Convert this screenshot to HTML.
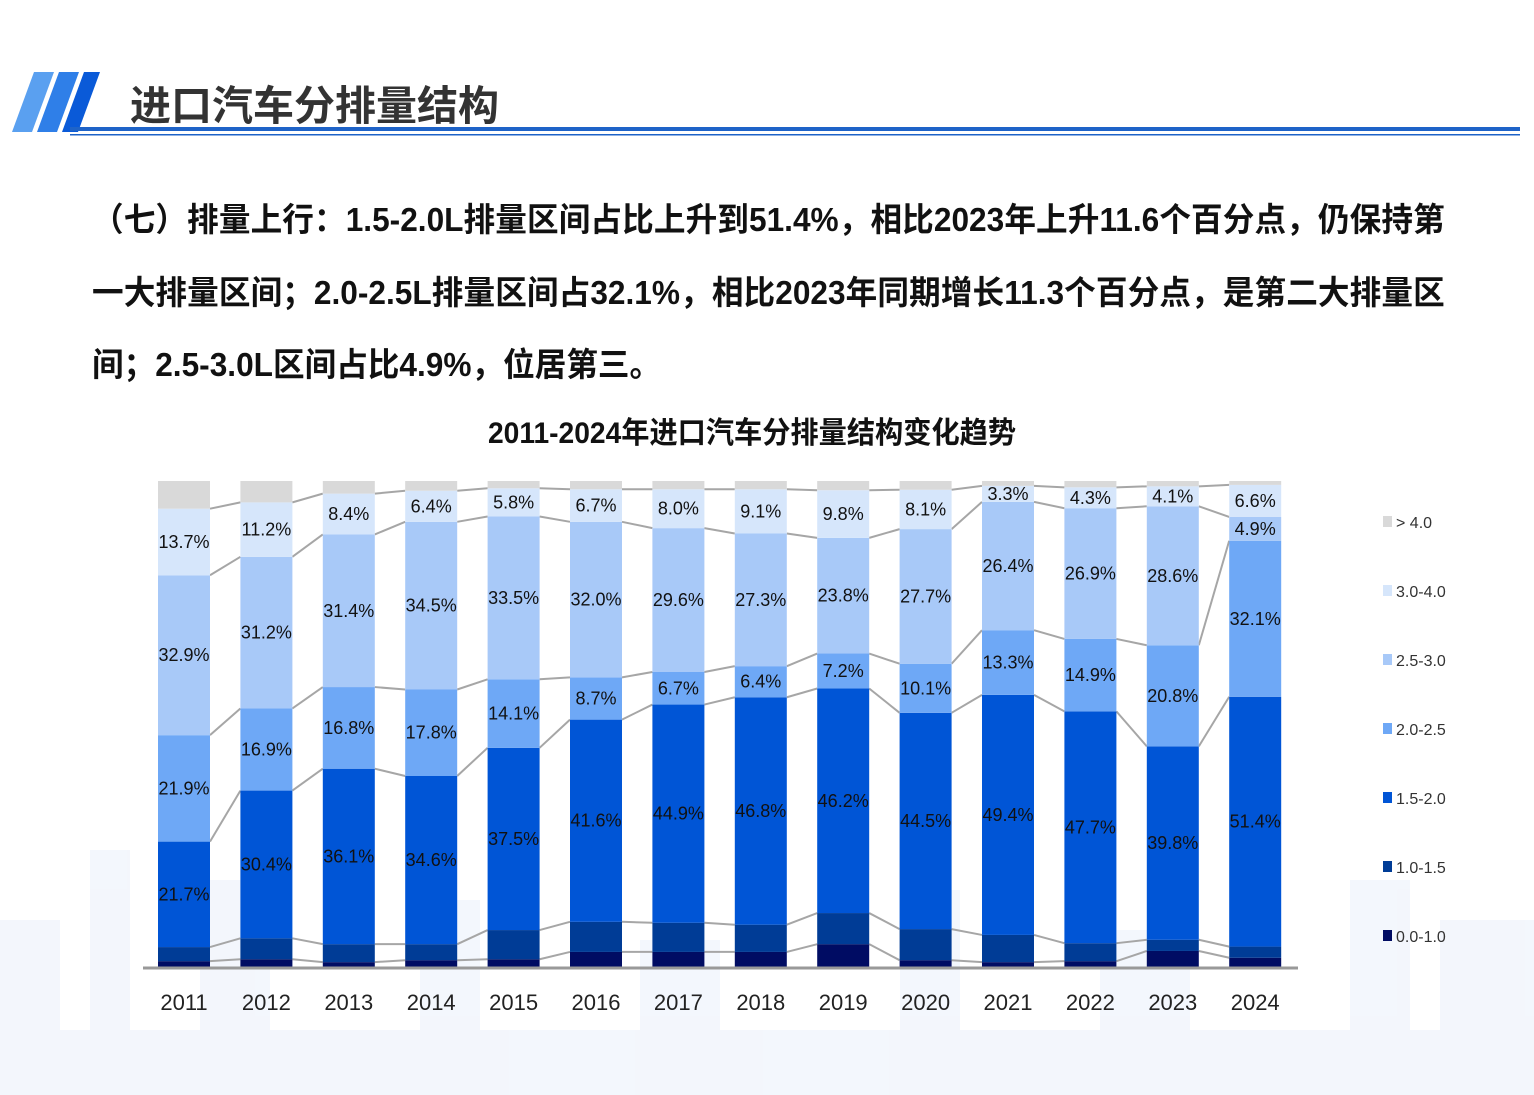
<!DOCTYPE html>
<html><head><meta charset="utf-8">
<style>
body{margin:0;width:1534px;height:1095px;background:#fff;position:relative;overflow:hidden;font-family:"Liberation Sans","Noto Sans CJK SC",sans-serif;}
.abs{position:absolute;}
.para{position:absolute;left:92px;width:1412px;font-size:33px;font-weight:bold;color:#111;white-space:nowrap;transform:scaleX(0.958);transform-origin:0 0;}
.just{text-align:justify;text-align-last:justify;}
</style></head><body>
<svg class="abs" style="left:0;top:0" width="1534" height="1095">
  <g fill="#eef3fc" opacity="0.7">
    <rect x="0" y="920" width="60" height="175"/><rect x="90" y="850" width="40" height="245"/>
    <rect x="200" y="880" width="70" height="215"/><rect x="420" y="900" width="60" height="195"/>
    <rect x="640" y="940" width="80" height="155"/><rect x="900" y="890" width="60" height="205"/>
    <rect x="1100" y="930" width="90" height="165"/><rect x="1350" y="880" width="60" height="215"/>
    <rect x="1440" y="920" width="94" height="175"/><rect x="0" y="1030" width="1534" height="65"/>
  </g>
</svg>
<svg class="abs" style="left:0;top:60px" width="1534" height="80">
  <polygon points="34,12 54,12 32,72 12,72" fill="#5aa0f0"/>
  <polygon points="59,12 79,12 57,72 37,72" fill="#2f7fe8"/>
  <polygon points="84,12 100,12 78,72 62,72" fill="#0a5ad8"/>
  <rect x="70" y="67" width="1450" height="4" fill="#1e63c8"/>
  <rect x="70" y="74" width="1450" height="1.5" fill="#1e63c8"/>
</svg>
<div class="abs" style="left:130px;top:72px;font-size:41px;font-weight:bold;color:#333;">进口汽车分排量结构</div>
<div class="para just" style="top:193px;">（七）排量上行：1.5-2.0L排量区间占比上升到51.4%，相比2023年上升11.6个百分点，仍保持第</div>
<div class="para just" style="top:266px;">一大排量区间；2.0-2.5L排量区间占32.1%，相比2023年同期增长11.3个百分点，是第二大排量区</div>
<div class="para" style="top:338px;">间；2.5-3.0L区间占比4.9%，位居第三。</div>
<div class="abs" style="left:0;width:1504px;top:408px;text-align:center;font-size:30px;font-weight:bold;color:#111;transform:scaleX(0.94);transform-origin:752px 0;">2011-2024年进口汽车分排量结构变化趋势</div>
<svg id="chart" class="abs" style="left:0;top:0" width="1534" height="1095"></svg>
<script>
const years=["2011","2012","2013","2014","2015","2016","2017","2018","2019","2020","2021","2022","2023","2024"];
const seriesNames=["0.0-1.0","1.0-1.5","1.5-2.0","2.0-2.5","2.5-3.0","3.0-4.0",">4.0"];
const s00_10=[1.2,1.6,1.0,1.4,1.6,3.1,3.1,3.1,4.7,1.4,1.0,1.2,3.3,1.9];
const s10_15=[2.9,4.3,3.7,3.3,6.0,6.2,6.0,5.6,6.4,6.4,5.6,3.7,2.3,2.3];
const s15_20=[21.7,30.4,36.1,34.6,37.5,41.6,44.9,46.8,46.2,44.5,49.4,47.7,39.8,51.4];
const s20_25=[21.9,16.9,16.8,17.8,14.1,8.7,6.7,6.4,7.2,10.1,13.3,14.9,20.8,32.1];
const s25_30=[32.9,31.2,31.4,34.5,33.5,32.0,29.6,27.3,23.8,27.7,26.4,26.9,28.6,4.9];
const s30_40=[13.7,11.2,8.4,6.4,5.8,6.7,8.0,9.1,9.8,8.1,3.3,4.3,4.1,6.6];
const s40p=[5.7,4.4,2.6,2.0,1.5,1.7,1.7,1.7,1.9,1.8,1.0,1.3,1.1,0.8];
const series=[s00_10,s10_15,s15_20,s20_25,s25_30,s30_40,s40p];
const colors=["#000c63","#003c96","#0055d6","#6ea8f6","#a8c9f8","#d6e6fb","#d9d9d9"];
const labeled=[false,false,true,true,true,true,false];
const svg=document.getElementById('chart');const NS="http://www.w3.org/2000/svg";
const X0=184,DX=82.4,BW=52,YB=967,YT=481;
const xc=i=>X0+i*DX;
const y=p=>YB-(YB-YT)*p/100;
function mk(t,a){const e=document.createElementNS(NS,t);for(const k in a)e.setAttribute(k,a[k]);svg.appendChild(e);return e;}
const cum=years.map((_,i)=>{let tot=series.reduce((s,a)=>s+a[i],0);let c=[0];let acc=0;series.forEach(a=>{acc+=a[i]/tot*100;c.push(acc);});return c;});
for(let i=0;i<years.length-1;i++){for(let k=1;k<series.length;k++){
 const l=mk('line',{x1:xc(i)+BW/2,y1:y(cum[i][k]),x2:xc(i+1)-BW/2,y2:y(cum[i+1][k]),stroke:'#a6a6a6','stroke-width':2});
 
 }}
years.forEach((yr,i)=>{
 series.forEach((s,k)=>{
  const r=mk('rect',{x:xc(i)-BW/2,y:y(cum[i][k+1]),width:BW,height:y(cum[i][k])-y(cum[i][k+1]),fill:colors[k]});
  
  
  if(labeled[k]){const t=mk('text',{x:xc(i),y:(y(cum[i][k])+y(cum[i][k+1]))/2+6,'text-anchor':'middle','font-size':18,fill:'#111'});
   t.textContent=s[i].toFixed(1)+'%';
   
   }
 });
 const t=mk('text',{x:xc(i),y:1010,'text-anchor':'middle','font-size':22,fill:'#222'});t.textContent=yr;
 
 
});
const ax=mk('line',{x1:143,y1:YB+1,x2:1298,y2:YB+1,stroke:'#999','stroke-width':3});


for(let k=series.length-1;k>=0;k--){const j=series.length-1-k;const ly=522+j*69;
 const r=mk('rect',{x:1383,y:ly-6,width:9,height:11,fill:colors[k]});
 
 
 const t=mk('text',{x:1396,y:ly+6,'font-size':16,fill:'#333'});t.textContent=k==6?'> 4.0':seriesNames[k];
 
 }
</script>
</body></html>
